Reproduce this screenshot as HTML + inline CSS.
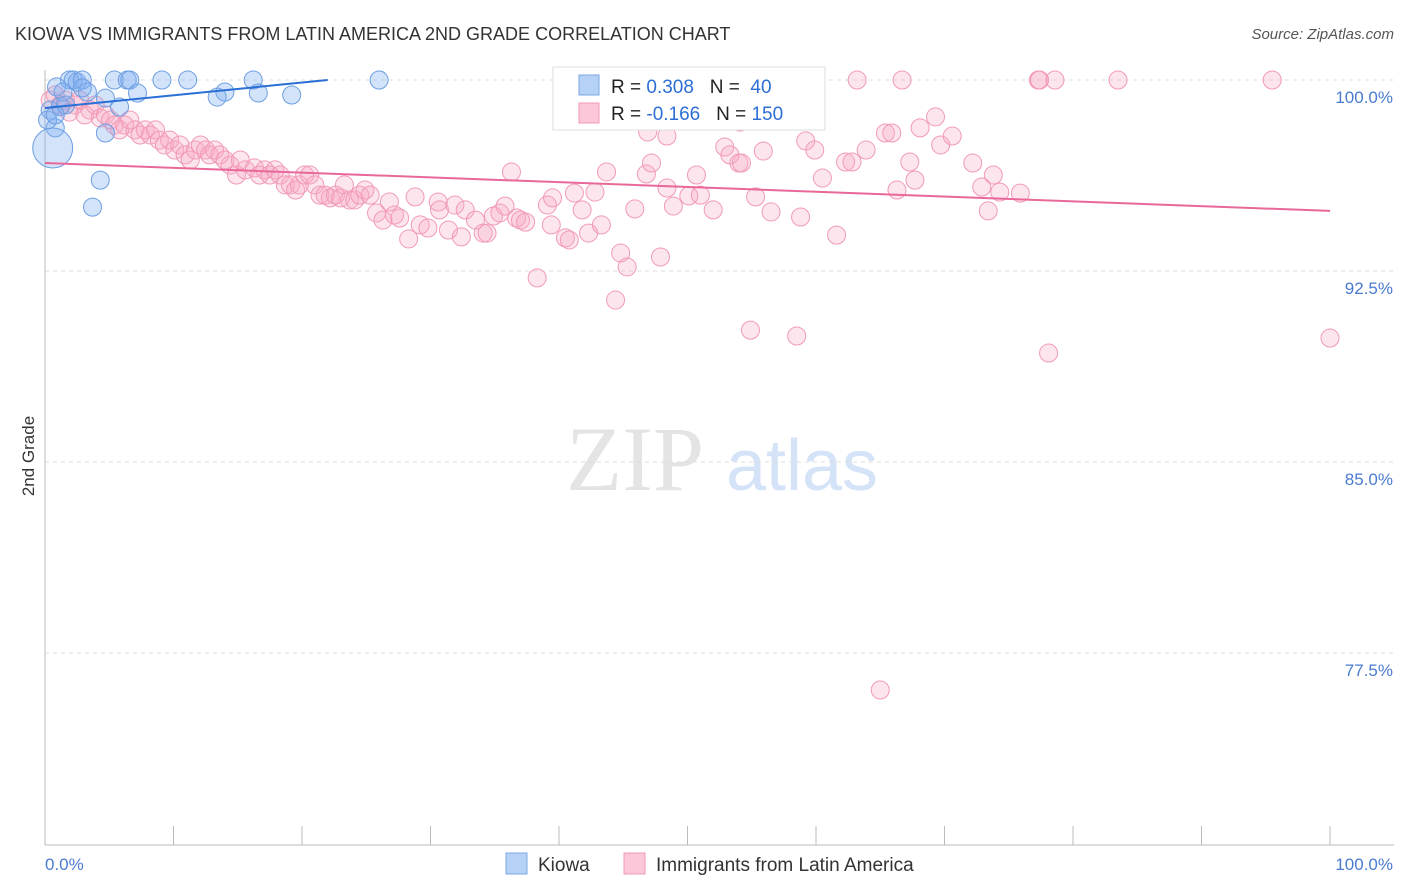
<!DOCTYPE html>
<html><head><meta charset="utf-8"><style>
body{margin:0;background:#fff;font-family:"Liberation Sans",sans-serif}
svg{display:block}
</style></head><body>
<svg id="c" width="1406" height="892" xmlns="http://www.w3.org/2000/svg">
<text x="15" y="40" font-size="18" fill="#333">KIOWA VS IMMIGRANTS FROM LATIN AMERICA 2ND GRADE CORRELATION CHART</text>
<text x="1394" y="39" font-size="15" fill="#555" font-style="italic" text-anchor="end">Source: ZipAtlas.com</text>
<text x="0" y="0" transform="translate(34,456) rotate(-90)" font-size="17" fill="#333" text-anchor="middle">2nd Grade</text>
<g>
<text x="635" y="490" font-size="92" font-family="Liberation Serif,serif" fill="#e4e4e4" text-anchor="middle">ZIP</text>
<text x="802" y="490" font-size="72" fill="#d4e3f7" text-anchor="middle">atlas</text>
</g>
<g id="grid"></g><g id="axes"></g><g id="pts"></g><g id="lines"></g>
<g>
<rect x="553" y="67" width="272" height="63" fill="#fff" stroke="#ddd"/>
<rect x="579" y="75" width="20" height="20" fill="#b5d1f5" stroke="#7aa7e6"/>
<rect x="579" y="103" width="20" height="20" fill="#fcc7d8" stroke="#f09ab6"/>
<text x="611" y="93" font-size="19" fill="#222">R = <tspan fill="#2d6ed6">0.308</tspan>&#160;&#160;&#160;N = <tspan fill="#2d6ed6">&#160;40</tspan></text>
<text x="611" y="120" font-size="19" fill="#222">R = <tspan fill="#2d6ed6">-0.166</tspan>&#160;&#160;&#160;N = <tspan fill="#2d6ed6">150</tspan></text>
</g>
<g>
<rect x="506" y="853" width="21" height="21" fill="#b5d1f5" stroke="#7aa7e6"/>
<text x="538" y="871" font-size="19" fill="#333">Kiowa</text>
<rect x="624" y="853" width="21" height="21" fill="#fcc7d8" stroke="#f09ab6"/>
<text x="656" y="871" font-size="19" fill="#333">Immigrants from Latin America</text>
</g>
</svg>
<script>
const yTicks=[100,92.5,85,77.5];
const yTickLabels=["100.0%","92.5%","85.0%","77.5%"];
const xTickLabels=["0.0%","100.0%"];
const blueX=[1.9,2.2,2.5,2.9,5.4,6.4,6.6,9.1,11.1,16.2,26.0,0.9,3.3,4.7,5.8,7.2,14.0,13.4,16.6,19.2,0.8,4.7,4.3,3.7,0.6,0.4,1.2,0.2,1.4,2.9,1.6,0.8];
const blueY=[100,100,99.92,100,100,100,100,100,100,100,100,99.73,99.53,99.29,98.94,99.49,99.53,99.33,99.49,99.41,98.12,97.92,96.07,95.01,97.33,98.82,98.96,98.43,99.53,99.69,99.02,98.63];
const blueBig=[24];
const pinkX=[0.4,0.8,1.2,1.6,1.9,2.3,2.7,3.1,3.5,3.9,4.3,4.7,5.1,5.4,5.8,6.2,6.6,7.0,7.4,7.8,8.2,8.6,8.9,9.3,9.7,10.1,10.5,10.9,11.3,11.7,12.1,12.5,12.8,13.2,13.6,14.0,14.4,14.9,15.2,15.6,16.3,16.7,17.1,17.5,17.9,18.3,18.7,19.1,19.5,19.8,20.2,20.6,21.0,21.4,21.8,22.2,22.6,23.0,23.3,23.7,24.1,24.5,24.9,25.3,25.8,26.3,26.8,27.2,27.6,28.3,28.8,29.2,29.8,30.6,30.7,31.4,31.9,32.4,32.7,33.5,34.1,34.4,34.9,35.4,35.8,36.3,36.7,37.0,37.4,38.3,39.1,39.5,39.4,40.5,40.8,41.2,41.8,42.3,42.8,43.3,43.7,44.4,44.8,45.3,45.9,46.8,47.2,47.9,48.4,48.4,48.9,50.1,50.7,51.0,52.0,52.9,53.3,54.0,54.2,54.9,55.3,55.9,56.5,58.5,58.8,59.2,59.9,60.5,61.6,62.3,62.8,63.2,63.9,65.0,65.4,65.9,66.3,66.7,67.3,67.7,68.1,69.3,69.7,70.6,72.2,72.9,73.4,73.8,74.3,75.9,77.3,77.4,78.1,78.6,83.5,95.5,100,50.2,54.1,46.9];
const pinkY=[99.21,99.41,99.02,99.21,98.74,99.02,99.21,98.63,98.82,99.02,98.51,98.63,98.43,98.23,98.04,98.23,98.43,98.04,97.84,98.04,97.84,98.04,97.64,97.45,97.64,97.25,97.45,97.06,96.86,97.25,97.45,97.25,97.06,97.25,97.06,96.86,96.66,96.27,96.86,96.47,96.55,96.27,96.47,96.27,96.47,96.27,95.88,95.88,95.68,95.88,96.27,96.27,95.88,95.48,95.48,95.37,95.48,95.37,95.88,95.29,95.29,95.48,95.68,95.48,94.78,94.50,95.21,94.70,94.58,93.76,95.41,94.31,94.19,95.21,94.90,94.11,95.09,93.84,94.90,94.50,93.99,93.99,94.66,94.78,95.05,96.39,94.58,94.50,94.42,92.23,95.09,95.37,94.31,93.80,93.72,95.56,94.90,93.99,95.60,94.31,96.39,91.36,93.21,92.66,94.94,96.31,96.74,93.05,95.76,97.80,95.05,95.45,96.27,95.48,94.90,97.37,97.06,96.74,96.74,90.18,95.41,97.21,94.82,89.95,94.62,97.61,97.25,96.15,93.91,96.78,96.78,100,97.25,76.05,97.92,97.92,95.68,100,96.78,96.07,98.12,98.55,97.45,97.80,96.74,95.80,94.86,96.27,95.60,95.56,100,100,89.28,100,100,100,89.87,98.74,98.35,97.96];
const blueTrend=[[0,98.9],[22,100]];
const pinkTrend=[[0,96.74],[100,94.86]];
const X0=45,X1=1330,Ytop=80,yPer=25.47;
const sx=v=>X0+(X1-X0)*v/100;
const sy=v=>Ytop+(100-v)*yPer;
const NS="http://www.w3.org/2000/svg";
function mk(tag,parent,attrs){const e=document.createElementNS(NS,tag);for(const k in attrs)e.setAttribute(k,attrs[k]);parent.appendChild(e);return e;}
const grid=document.getElementById('grid'),axes=document.getElementById('axes'),pts=document.getElementById('pts'),lines=document.getElementById('lines');
yTicks.forEach((t,i)=>{
 const l=mk('line',grid,{x1:X0,x2:1394,y1:sy(t),y2:sy(t),stroke:'#ddd','stroke-dasharray':'4,4'});
 
 
 const tx=mk('text',grid,{x:1393,y:sy(t)+23,'font-size':17,fill:'#4a7bd0','text-anchor':'end'});
 tx.textContent=yTickLabels[i];
 
 
});
const ya=mk('line',axes,{x1:X0,x2:X0,y1:70,y2:845,stroke:'#bbb'});


const xa=mk('line',axes,{x1:X0,x2:1394,y1:845,y2:845,stroke:'#bbb'});


for(let i=0;i<=10;i++){
 const t=mk('line',axes,{x1:sx(i*10),x2:sx(i*10),y1:826,y2:845,stroke:'#bbb'});
 
 
}
const xl0=mk('text',axes,{x:45,y:870,'font-size':17,fill:'#4a7bd0'});xl0.textContent=xTickLabels[0];


const xl1=mk('text',axes,{x:1393,y:870,'font-size':17,fill:'#4a7bd0','text-anchor':'end'});xl1.textContent=xTickLabels[1];


pinkX.forEach((x,i)=>{
 const c=mk('circle',pts,{cx:sx(x),cy:sy(pinkY[i]),r:9,fill:'rgba(248,168,195,0.3)',stroke:'#f19ab7','stroke-width':1});
 
 
});
blueX.forEach((x,i)=>{
 const c=mk('circle',pts,{cx:sx(x),cy:sy(blueY[i]),r:blueBig.includes(i)?20:9,fill:'rgba(130,175,240,0.35)',stroke:'#6d9fe2','stroke-width':1});
 
 
});
const bl=mk('line',lines,{x1:sx(blueTrend[0][0]),y1:sy(blueTrend[0][1]),x2:sx(blueTrend[1][0]),y2:sy(blueTrend[1][1]),stroke:'#2a6fd6','stroke-width':2});


const pl=mk('line',lines,{x1:sx(pinkTrend[0][0]),y1:sy(pinkTrend[0][1]),x2:sx(pinkTrend[1][0]),y2:sy(pinkTrend[1][1]),stroke:'#e8689a','stroke-width':2});


</script>
</body></html>
